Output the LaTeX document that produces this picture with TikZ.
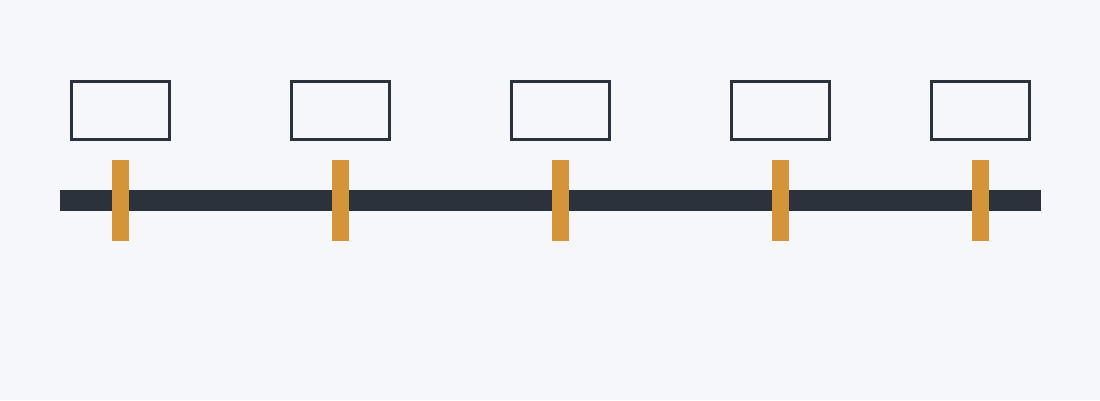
\documentclass[tikz,border=0pt]{standalone}
\usepackage{xcolor}
\usepackage{tikz}
\usetikzlibrary{positioning}
\definecolor{bgpaper}{HTML}{F5F7FB}
\definecolor{inkdark}{HTML}{2B323C}
\definecolor{tickorange}{HTML}{D4953A}
\begin{document}
\begin{tikzpicture}[x=1pt, y=-1pt,
				slotbox/.style={draw=inkdark, line width=3pt, fill=none, inner sep=0pt,
					minimum width=97.5pt, minimum height=57.5pt},
				tickmark/.style={fill=tickorange, draw=none, inner sep=0pt,
					minimum width=17pt, minimum height=81pt},
				railbar/.style={fill=inkdark, draw=none, inner sep=0pt,
					minimum width=981pt, minimum height=21pt}]
				\fill[bgpaper] (0,0) rectangle (1100,400);
				\useasboundingbox (0,0) rectangle (1100,400);
				\node at (550.5,200.5) (rail) [railbar] {};
				\foreach \n/\x in {1/120, 2/340, 3/560, 4/780, 5/980} {
					\node at (\x+0.4,110.4) (box\n) [slotbox] {};
					\node at (\x+0.5,200.5) (tick\n) [tickmark] {};
				}
			\end{tikzpicture}
\end{document}
